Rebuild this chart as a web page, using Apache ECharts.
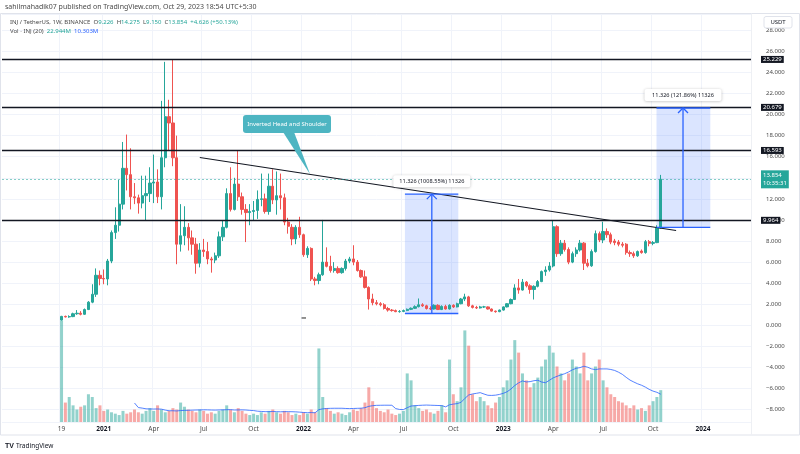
<!DOCTYPE html>
<html>
<head>
<meta charset="utf-8">
<script src="https://cdn.jsdelivr.net/npm/echarts@6/dist/echarts.min.js"></script>
<style>html,body{margin:0;padding:0;background:#fff;}#chart{width:800px;height:454px;}</style>
</head>
<body>
<div id="chart"></div>
<script>
// ---------------- data ----------------
const firstWeek = '2020-10-19';
const weeksBefore = 15;   // empty weeks on the time scale before the first candle
const weeksAfter = 23;    // empty weeks after the last candle
const open = [0.50,0.85,0.80,0.83,1.10,1.15,1.05,1.50,2.20,2.95, 4.75,4.45,4.40,6.10,8.80,9.50,11.50,14.90,14.30,12.20, 12.10,11.60,12.30,12.50,13.50,13.60,12.20,15.90,19.80,19.20, 15.90,7.70,8.50,9.30,8.30,7.70,5.90,7.15,7.00,6.30, 6.20,6.60,8.40,9.30,12.50,11.00,13.40,12.20,11.00,10.70, 10.80,10.90,11.95,12.00,10.80,13.20,11.90,12.30,12.10,9.80, 9.30,8.20,9.30,8.60,6.70,7.30,4.40,4.25,4.80,6.00, 5.60,5.20,5.40,5.00,5.40,6.10,6.30,6.00,5.20,4.60, 3.60,2.50,2.15,2.05,1.95,1.60,1.45,1.40,1.30,1.32, 1.40,1.52,1.62,1.77,1.95,1.85,1.60,1.55,1.90,1.50, 1.80,1.55,1.90,1.75,2.05,2.50,2.70,1.85,1.70,1.65, 1.75,1.75,1.55,1.35,1.30,1.45,1.75,2.05,2.45,3.55, 3.35,4.10,3.75,3.40,3.70,4.15,5.10,5.25,5.63,9.36, 6.80,7.80,7.20,6.00,6.80,7.15,7.80,5.90,5.65,7.00, 8.70,8.10,8.90,8.60,8.00,7.90,7.70,7.70,6.90,6.80, 6.60,7.05,6.90,7.94,7.78,7.85,9.226];
const close = [0.85,0.80,0.83,1.10,1.15,1.05,1.50,2.20,2.95,4.75, 4.45,4.40,6.10,8.80,9.50,11.50,14.90,14.30,12.20,12.10, 11.60,12.30,12.50,13.50,13.60,12.20,15.90,19.80,19.20,15.90, 7.70,8.50,9.30,8.30,7.70,5.90,7.15,7.00,6.30,6.20, 6.60,8.40,9.30,12.50,11.00,13.40,12.20,11.00,10.70,10.80, 10.90,11.95,12.00,10.80,13.20,11.90,12.30,12.10,9.80,9.40, 8.20,9.30,8.60,6.70,7.30,4.40,4.25,4.80,6.00,5.60, 5.20,5.40,5.00,5.40,6.10,6.30,6.00,5.20,4.60,3.60, 2.50,2.15,2.05,1.95,1.60,1.45,1.40,1.30,1.32,1.40, 1.52,1.62,1.77,1.95,1.85,1.60,1.55,1.90,1.50,1.80, 1.55,1.90,1.75,2.05,2.50,2.70,1.85,1.70,1.65,1.75, 1.75,1.55,1.35,1.30,1.45,1.75,2.05,2.45,3.55,3.35, 4.10,3.75,3.40,3.70,4.15,5.10,5.25,5.63,9.36,6.80, 7.80,7.20,6.00,6.80,7.15,7.80,5.90,5.65,7.00,8.70, 8.10,8.90,8.60,7.90,7.85,7.70,7.60,6.90,6.80,6.60, 7.00,6.90,7.94,7.78,7.85,9.226,13.854];
const low = [0.45,0.75,0.72,0.78,1.00,0.95,1.00,1.45,2.10,2.70, 3.80,3.90,3.80,5.90,8.20,8.90,11.00,12.80,11.00,11.50, 10.60,11.10,9.90,11.70,11.60,11.60,11.00,15.00,16.60,15.10, 5.80,7.00,7.60,7.10,6.70,4.90,5.50,6.50,5.80,5.00, 5.90,6.40,8.00,9.20,10.80,10.90,11.80,10.50,7.90,9.50, 10.00,10.10,11.30,10.60,10.50,11.50,10.50,11.00,9.50,8.70, 7.60,7.70,8.30,6.50,6.40,4.20,3.80,3.90,4.70,5.50, 5.00,5.00,4.90,4.90,5.20,5.90,5.70,5.10,4.50,3.50, 1.50,1.90,1.90,1.80,1.50,1.30,1.30,1.25,1.20,1.25, 1.35,1.45,1.55,1.70,1.75,1.50,1.45,1.50,1.45,1.45, 1.50,1.50,1.65,1.70,2.00,2.30,1.75,1.60,1.55,1.60, 1.65,1.50,1.30,1.20,1.25,1.40,1.70,2.00,2.40,3.00, 3.30,3.60,3.00,2.45,3.60,4.10,4.70,5.10,5.50,6.50, 6.60,7.00,5.80,5.90,6.50,7.00,5.25,5.50,5.55,6.90, 7.90,7.80,8.30,7.70,7.60,7.50,7.40,6.70,6.50,6.40, 6.50,6.80,6.80,7.50,7.60,7.80,9.150];
const high = [0.90,0.92,0.95,1.20,1.45,1.35,1.60,2.30,3.90,5.40, 5.20,5.30,6.30,9.00,11.20,13.80,17.40,18.10,16.80,13.50, 12.40,14.20,14.20,15.00,16.20,14.80,21.30,25.00,21.40,25.23, 18.00,11.50,11.30,9.70,9.00,8.30,7.80,8.20,7.90,6.50, 6.90,8.90,9.90,13.00,15.00,14.00,16.60,12.60,11.50,11.50, 11.80,12.80,14.40,12.50,14.40,14.80,14.60,14.40,12.50,10.20, 9.60,9.50,10.30,8.70,7.50,7.40,4.60,5.00,10.00,7.40, 6.60,6.00,5.60,5.50,6.30,6.50,7.60,6.20,5.30,5.20, 3.70,3.00,2.40,2.20,2.10,1.75,1.55,1.50,1.45,1.50, 1.60,1.70,1.90,2.55,2.10,1.95,1.80,2.00,2.00,1.90, 1.95,2.00,2.00,2.15,2.60,3.00,2.80,1.95,1.85,1.85, 1.85,1.80,1.60,1.40,1.50,1.80,2.10,2.55,3.90,4.40, 4.40,4.20,3.90,3.80,4.30,5.20,5.60,6.00,9.96,9.50, 8.10,8.10,7.40,7.00,7.40,8.10,7.90,6.30,7.20,9.00, 8.90,9.83,9.20,8.80,8.20,8.10,7.90,7.80,7.10,7.00, 7.10,7.20,8.10,8.10,8.00,9.50,14.275];
const volume = [73,14,18,12,9,11,12,20,18,10, 12,8,9,7,6,5,8,6,7,9, 7,6,8,10,8,12,9,7,8,10, 9,14,11,9,8,7,9,8,6,7, 6,8,9,12,9,7,10,8,6,5, 6,5,7,6,8,9,7,6,8,7, 5,6,5,7,6,9,7,53,18,10, 8,6,7,6,5,7,9,8,10,14, 25,15,10,8,7,9,6,5,6,8, 35,30,12,10,8,9,7,6,8,12, 7,45,20,15,25,66,55,20,15,18, 15,12,10,14,18,25,30,45,59,50, 35,30,25,28,32,40,45,55,50,40, 35,30,35,45,40,35,50,30,35,40, 45,30,25,20,18,15,14,12,10,12, 9,10,8,12,15,18,22.944]; // millions
const maPeriod = 20;
const levels = [25.229, 20.679, 16.593, 9.964];
const lastPrice = 13.854;
const lastPriceTimer = '10:35:31';
const trendline = [[36, 15.93], [160, 9.0]];          // [week index, price]
const measures = [
  {from: 89.4, to: 103.3, arrow: 96.4, base: 1.123, top: 12.449, text: '11.326 (1008.55%) 11326'},
  {from: 154.9, to: 168.9, arrow: 161.8, base: 9.294, top: 20.62, text: '11.326 (121.86%) 11326'}
];
const callout = {text: 'Inverted Head and Shoulder', week: 58.7, price: 19.1, tipWeek: 64.7};
const marker = {week: 63, price: 0.7};
const header1 = 'sahilmahadik07 published on TradingView.com, Oct 29, 2023 18:54 UTC+5:30';
const symbolText = 'INJ / TetherUS, 1W, BINANCE';
const ohlcText = ['9.226', '14.275', '9.150', '13.854'];
const changeText = '+4.626 (+50.13%)';
const volText = ['22.944M', '10.303M'];

// ---------------- build ----------------
const FONT = 'Noto Sans';
const UP = '#26a69a', DOWN = '#ef5350';
const WEEK = 7 * 864e5;
const START = Date.parse(firstWeek + 'T00:00:00Z');
const nCat = weeksBefore + open.length + weeksAfter;
const categories = [];
for (let k = 0; k < nCat; k++) categories.push(new Date(START + (k - weeksBefore) * WEEK).toISOString().slice(0, 10));
const MON = ['Jan','Feb','Mar','Apr','May','Jun','Jul','Aug','Sep','Oct','Nov','Dec'];
function tickLabel(k) {
  const i = k - weeksBefore;
  const d = new Date(START + i * WEEK);
  if (i === 0) return String(d.getUTCDate());
  if (i > 0 && d.getUTCDate() <= 7 && d.getUTCMonth() % 3 === 0)
    return d.getUTCMonth() === 0 ? '{y|' + d.getUTCFullYear() + '}' : MON[d.getUTCMonth()];
  return '';
}
const candles = open.map((o, i) => [i + weeksBefore, o, close[i], low[i], high[i]]);
const volBars = volume.map((v, i) => ({
  value: [i + weeksBefore, v],
  itemStyle: {color: close[i] >= open[i] ? 'rgba(38,166,154,0.5)' : 'rgba(239,83,80,0.5)'}
}));
const volMA = [];
for (let i = maPeriod - 1; i < volume.length; i++) {
  let s = 0;
  for (let j = i - maPeriod + 1; j <= i; j++) s += volume[j];
  volMA.push([i + weeksBefore, s / maPeriod]);
}
const fmt = v => (v < 0 ? '\u2212' : '') + Math.abs(v).toFixed(3);

const chart = echarts.init(document.getElementById('chart'), null, {renderer: 'canvas'});
const option = {
  animation: false,
  backgroundColor: '#fff',
  grid: {left: 2, right: 49, top: 14, bottom: 32, containLabel: false, outerBoundsMode: 'none'},
  xAxis: {
    type: 'category', data: categories, boundaryGap: true,
    axisLine: {show: false}, axisTick: {show: false},
    axisLabel: {
      interval: idx => tickLabel(idx) !== '', formatter: (v, idx) => tickLabel(idx),
      color: '#4a4a4a', fontSize: 6.5, margin: 4, fontFamily: FONT, hideOverlap: false,
      rich: {y: {fontWeight: 'bold', fontSize: 6.5, color: '#131722', fontFamily: FONT}}
    },
    splitLine: {show: true, interval: idx => tickLabel(idx) !== '', lineStyle: {color: '#f0f3fa', width: 1}}
  },
  yAxis: [
    {
      type: 'value', position: 'right', min: -9.17, max: 29.54, splitNumber: 19,
      axisLine: {show: false}, axisTick: {show: false},
      axisLabel: {showMinLabel: false, showMaxLabel: false, formatter: fmt, color: '#4a4a4a', fontSize: 6, margin: 15, fontFamily: FONT},
      splitLine: {lineStyle: {color: '#f0f3fa', width: 1}}
    },
    {type: 'value', min: 0, max: 294, show: false, splitLine: {show: false}}
  ],
  series: [
    {type: 'bar', name: 'Vol', xAxisIndex: 0, yAxisIndex: 1, data: volBars, encode: {x: 0, y: 1}, barWidth: 3, z: 1, silent: true},
    {type: 'line', name: 'VolMA', xAxisIndex: 0, yAxisIndex: 1, data: volMA, encode: {x: 0, y: 1}, showSymbol: false, symbol: 'none',
     lineStyle: {color: '#2962ff', width: 0.8}, z: 2, silent: true},
    {
      type: 'candlestick', name: 'INJ', data: candles, encode: {x: 0, y: [1, 2, 3, 4]}, barWidth: 2.8, z: 3,
      itemStyle: {color: UP, color0: DOWN, borderColor: UP, borderColor0: DOWN, borderWidth: 1},
      markLine: {
        silent: true, symbol: ['none', 'none'], animation: false, z: 10, precision: 3,
        data: levels.map(v => ({
          yAxis: v, name: v.toFixed(3),
          lineStyle: {color: '#131722', width: 1.3, type: 'solid'},
          label: {show: true, position: 'end', distance: 10, formatter: p => p.name, color: '#fff',
                  backgroundColor: '#131722', padding: [1, 2, 0, 2], fontSize: 6, fontFamily: FONT}
        })).concat([{
          yAxis: lastPrice, name: lastPrice.toFixed(3) + '\n' + lastPriceTimer,
          lineStyle: {color: 'rgba(38,166,154,0.55)', width: 1, type: [2, 2]},
          label: {show: true, position: 'end', distance: 10, formatter: p => p.name,
                  color: '#fff', backgroundColor: UP, padding: [2, 2, 1, 2], fontSize: 6, lineHeight: 7.5, fontFamily: FONT}
        }])
      }
    },
    {type: 'line', name: 'Trend', data: trendline.map(p => [p[0] + weeksBefore, p[1]]), encode: {x: 0, y: 1},
     showSymbol: false, symbol: 'none', lineStyle: {color: '#131722', width: 1.1}, z: 4, silent: true}
  ]
};
chart.setOption(option);

// ---------------- annotations (anchored in data space) ----------------
const xa = chart.convertToPixel({xAxisIndex: 0}, weeksBefore);
const xb = chart.convertToPixel({xAxisIndex: 0}, weeksBefore + 100);
const X = w => xa + (xb - xa) * w / 100;
const Y = p => chart.convertToPixel({yAxisIndex: 0}, p);
const trendAt = w => trendline[0][1] + (trendline[1][1] - trendline[0][1]) * (w - trendline[0][0]) / (trendline[1][0] - trendline[0][0]);
const BLUE = '#2962ff';
const g = [];
measures.forEach(m => {
  const l = X(m.from), r = X(m.to), a = X(m.arrow), t = Y(m.top), b = Y(m.base);
  g.push({type: 'rect', z: 1, silent: true, shape: {x: l, y: t, width: r - l, height: b - t}, style: {fill: 'rgba(41,98,255,0.17)'}});
  g.push({type: 'line', z: 20, silent: true, shape: {x1: l, y1: t, x2: r, y2: t}, style: {stroke: BLUE, lineWidth: 1.3}});
  g.push({type: 'line', z: 20, silent: true, shape: {x1: l, y1: b, x2: r, y2: b}, style: {stroke: BLUE, lineWidth: 1.3}});
  g.push({type: 'line', z: 20, silent: true, shape: {x1: a, y1: b, x2: a, y2: t}, style: {stroke: BLUE, lineWidth: 1.3}});
  g.push({type: 'polyline', z: 20, silent: true, shape: {points: [[a - 5, t + 5], [a, t], [a + 5, t + 5]]}, style: {stroke: BLUE, lineWidth: 1.3, fill: 'none'}});
  g.push({type: 'rect', z: 21, silent: true, shape: {x: a - 38.5, y: t - 19, width: 77, height: 12, r: 2},
          style: {fill: '#fff', shadowBlur: 3, shadowColor: 'rgba(0,0,0,0.25)', shadowOffsetY: 0.5}});
  g.push({type: 'text', z: 22, silent: true, x: a, y: t - 13,
          style: {text: m.text, fill: '#131722', fontSize: 5.6, fontFamily: FONT, align: 'center', verticalAlign: 'middle'}});
});
// callout
{
  const cx = X(callout.week), cy = Y(callout.price);
  const tx = X(callout.tipWeek), ty = Y(trendAt(callout.tipWeek));
  g.push({type: 'polygon', z: 23, silent: true, shape: {points: [[cx - 4, cy + 8], [cx + 7, cy + 8], [tx, ty]]}, style: {fill: '#4db5c2'}});
  g.push({type: 'rect', z: 23, silent: true, shape: {x: cx - 44, y: cy - 9, width: 88, height: 18, r: 3}, style: {fill: '#4db5c2'}});
  g.push({type: 'text', z: 24, silent: true, x: cx, y: cy,
          style: {text: callout.text, fill: '#fff', fontSize: 6, fontFamily: FONT, align: 'center', verticalAlign: 'middle'}});
}
// tiny marker
g.push({type: 'rect', z: 5, silent: true, shape: {x: X(marker.week) - 2, y: Y(marker.price) - 0.8, width: 4.5, height: 1.6}, style: {fill: '#777'}});
// frame
g.push({type: 'rect', z: 0, silent: true, shape: {x: 0.5, y: 13.5, width: 799, height: 421.5}, style: {fill: 'none', stroke: '#e0e3eb', lineWidth: 1}});
g.push({type: 'line', z: 0, silent: true, shape: {x1: 751.5, y1: 13.5, x2: 751.5, y2: 435}, style: {stroke: '#eef0f4', lineWidth: 1}});
// USDT box
g.push({type: 'rect', z: 30, silent: true, shape: {x: 764, y: 16.5, width: 28, height: 11.5, r: 2}, style: {fill: '#fff', stroke: '#e0e3eb'}});
g.push({type: 'text', z: 31, silent: true, x: 778, y: 22.5, style: {text: 'USDT', fill: '#131722', fontSize: 6, fontFamily: FONT, align: 'center', verticalAlign: 'middle'}});
// header texts
g.push({type: 'text', z: 30, silent: true, x: 5, y: 7, style: {text: header1, fill: '#4a4a4a', fontSize: 7, fontFamily: FONT, verticalAlign: 'middle'}});
g.push({type: 'text', z: 30, silent: true, x: 10, y: 22, style: {
  text: symbolText + '  O{v|' + ohlcText[0] + '}  H{v|' + ohlcText[1] + '}  L{v|' + ohlcText[2] + '}  C{v|' + ohlcText[3] + '}  {v|' + changeText + '}',
  fill: '#4a4a4a', fontSize: 6, fontFamily: FONT, verticalAlign: 'middle',
  rich: {v: {fill: UP, fontSize: 6, fontFamily: FONT}}}});
g.push({type: 'text', z: 30, silent: true, x: 10, y: 31, style: {
  text: 'Vol \u00b7 INJ (20)  {g|' + volText[0] + '}  {b|' + volText[1] + '}',
  fill: '#4a4a4a', fontSize: 6, fontFamily: FONT, verticalAlign: 'middle',
  rich: {g: {fill: UP, fontSize: 6, fontFamily: FONT}, b: {fill: BLUE, fontSize: 6, fontFamily: FONT}}}});
// footer logo
g.push({type: 'text', z: 30, silent: true, x: 5, y: 446, style: {text: 'TV', fill: '#131722', fontSize: 7, fontWeight: 'bold', fontFamily: 'Liberation Sans', verticalAlign: 'middle'}});
g.push({type: 'text', z: 30, silent: true, x: 16, y: 446, style: {text: 'TradingView', fill: '#131722', fontSize: 6.5, fontFamily: FONT, verticalAlign: 'middle'}});
chart.setOption({graphic: {elements: g}});
</script>
</body>
</html>
